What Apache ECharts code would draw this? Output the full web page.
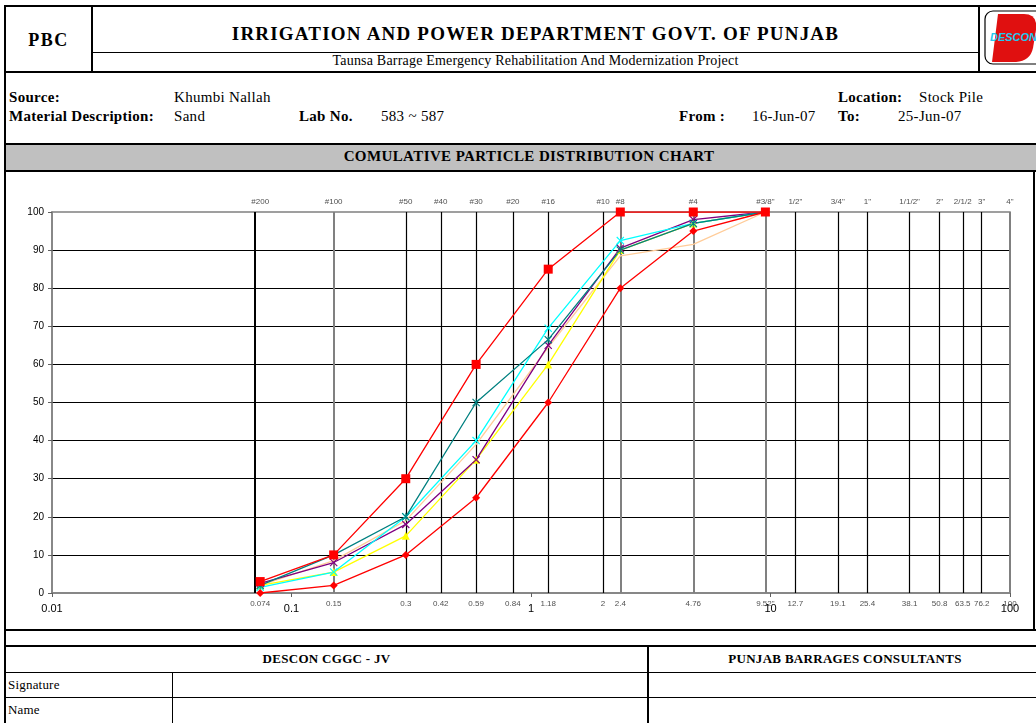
<!DOCTYPE html>
<html>
<head>
<meta charset="utf-8">
<title>Comulative Particle Distribution Chart</title>
<script src="https://cdn.jsdelivr.net/npm/echarts@6.0.0/dist/echarts.min.js"></script>
<style>
	body { margin: 0; background: #fff; }
	#page { position: relative; width: 1036px; height: 723px; overflow: hidden; font-family: "Liberation Serif", "Times New Roman", serif; color: #000; }
	.ln { position: absolute; background: #000; }
	.tx { position: absolute; white-space: nowrap; font-size: 15px; letter-spacing: 0.3px; line-height: 1; }
	.b { font-weight: bold; }
	.c { text-align: center; }
	#eapp { position: absolute; left: 0; top: 0; width: 1036px; height: 723px; z-index: 2; }
</style>
</head>
<body>
<div id="page">
	<!-- header -->
	<div class="ln" style="left:4px;top:5px;width:1032px;height:2px"></div>
	<div class="ln" style="left:4px;top:5px;width:2px;height:718px"></div>
	<div class="ln" style="left:91px;top:5px;width:2px;height:67px"></div>
	<div class="ln" style="left:978px;top:5px;width:2px;height:67px"></div>
	<div class="ln" style="left:93px;top:52px;width:885px;height:1px"></div>
	<div class="ln" style="left:4px;top:71px;width:1032px;height:2px"></div>
	<div class="tx b c" style="left:6px;top:31px;width:85px;font-size:18px;letter-spacing:1.5px">PBC</div>
	<div class="tx b c" style="left:93px;top:24px;width:885px;font-size:19px;letter-spacing:1.2px">IRRIGATION AND POWER DEPARTMENT GOVT. OF PUNJAB</div>
	<div class="tx c" style="left:93px;top:54px;width:885px;font-size:14px;letter-spacing:0.2px">Taunsa Barrage Emergency Rehabilitation And Modernization Project</div>
	<svg style="position:absolute;left:984px;top:10px" width="52" height="56">
		<rect x="1" y="1" width="60" height="53" rx="8" ry="8" fill="#fff" stroke="#000" stroke-width="1.2"/>
		<path d="M14,4 L40,4 Q54,4 52,20 L49,38 Q46,52 30,52 L8,52 Z" fill="#e01010"/>
		<text x="6" y="31" font-family="Liberation Sans" font-size="11" font-weight="bold" font-style="italic" fill="#22c8f0">DESCON</text>
	</svg>

	<!-- info -->
	<div class="tx b" style="left:9px;top:90px">Source:</div>
	<div class="tx" style="left:174px;top:90px">Khumbi Nallah</div>
	<div class="tx b" style="left:838px;top:90px">Location:</div>
	<div class="tx" style="left:919px;top:90px">Stock Pile</div>
	<div class="tx b" style="left:9px;top:109px">Material Description:</div>
	<div class="tx" style="left:174px;top:109px">Sand</div>
	<div class="tx b" style="left:299px;top:109px">Lab No.</div>
	<div class="tx" style="left:381px;top:109px">583 ~ 587</div>
	<div class="tx b" style="left:679px;top:109px">From :</div>
	<div class="tx" style="left:752px;top:109px">16-Jun-07</div>
	<div class="tx b" style="left:838px;top:109px">To:</div>
	<div class="tx" style="left:898px;top:109px">25-Jun-07</div>

	<!-- chart title band -->
	<div style="position:absolute;left:6px;top:145px;width:1030px;height:25px;background:#c0c0c0"></div>
	<div class="ln" style="left:4px;top:143px;width:1032px;height:2px"></div>
	<div class="ln" style="left:4px;top:170px;width:1032px;height:2px"></div>
	<div class="tx b c" style="left:6px;top:149px;width:1046px;font-size:15px;letter-spacing:0.4px">COMULATIVE PARTICLE DISTRIBUTION CHART</div>
	<div class="ln" style="left:1033px;top:170px;width:2px;height:460px"></div>
	<div class="ln" style="left:4px;top:629px;width:1032px;height:2px"></div>

	<!-- signature table -->
	<div class="ln" style="left:4px;top:645px;width:1032px;height:2px"></div>
	<div class="ln" style="left:4px;top:672px;width:1032px;height:1px"></div>
	<div class="ln" style="left:4px;top:697px;width:1032px;height:1px"></div>
	<div class="ln" style="left:647px;top:645px;width:2px;height:78px"></div>
	<div class="ln" style="left:172px;top:672px;width:1px;height:51px"></div>
	<div class="tx b c" style="left:6px;top:652px;width:641px;font-size:13px;letter-spacing:0.3px">DESCON CGGC - JV</div>
	<div class="tx b c" style="left:649px;top:652px;width:392px;font-size:13px;letter-spacing:0.3px">PUNJAB BARRAGES CONSULTANTS</div>
	<div class="tx" style="left:8px;top:678px;font-size:13px;letter-spacing:0.2px">Signature</div>
	<div class="tx" style="left:8px;top:703px;font-size:13px;letter-spacing:0.2px">Name</div>

	<div id="eapp"></div>
</div>

<script>
var sieveSizes = [0.074, 0.15, 0.3, 0.42, 0.59, 0.84, 1.18, 2, 2.36, 4.76, 9.52, 12.7, 19.1, 25.4, 38.1, 50.8, 63.5, 76.2, 100];
var sieveNames = ['#200', '#100', '#50', '#40', '#30', '#20', '#16', '#10', '#8', '#4', '#3/8"', '1/2"', '3/4"', '1"', '1/1/2"', '2"', '2/1/2', '3"', '4"'];
var sizeLabels = ['0.074', '0.15', '0.3', '0.42', '0.59', '0.84', '1.18', '2', '2.4', '4.76', '9.52"', '12.7', '19.1', '25.4', '38.1', '50.8', '63.5', '76.2', '100'];

var testSizes = [0.074, 0.15, 0.3, 0.59, 1.18, 2.36, 4.76, 9.52];
var upperLimit = [3, 10, 30, 60, 85, 100, 100, 100];
var lowerLimit = [0, 2, 10, 25, 50, 80, 95, 100];
var lab583 = [2, 10, 20, 50, 66.5, 90, 97, 100];
var lab584 = [1.5, 5.5, 20, 40, 69.5, 92.5, 97, 100];
var lab585 = [2.5, 8, 18, 35, 65, 90.5, 98, 100];
var lab586 = [2, 5.5, 15, 35, 60, 90, 97, 100];
var lab587 = [2, 8.5, 19, 39, 64.5, 88.5, 91.5, 100];

var crossPath = 'path://M0,1L1,0L5,4L9,0L10,1L6,5L10,9L9,10L5,6L1,10L0,9L4,5Z';
var starPath = 'path://M0,1L1,0L5,4L9,0L10,1L6,5L10,9L9,10L5,6L1,10L0,9L4,5ZM4.4,0L5.6,0L5.6,10L4.4,10Z';

function pairs(xs, ys) {
	var out = [];
	for (var i = 0; i < xs.length; i++) {
		out.push([xs[i], ys[i]]);
	}
	return out;
}

function sieveLine(size) {
	var gray = (size == 0.15 || size == 2.36 || size == 4.76 || size == 9.52 || size == 100);
	return {
		xAxis: size,
		lineStyle: {
			color: gray ? '#808080' : '#000',
			width: (gray || size == 0.074) ? 2 : 1.2,
			type: 'solid'
		}
	};
}

function curve(name, data, color, symbol, size, width) {
	return {
		name: name,
		type: 'line',
		data: pairs(testSizes, data),
		symbol: symbol,
		symbolSize: size,
		showSymbol: symbol != 'none',
		lineStyle: { color: color, width: width },
		itemStyle: { color: color },
		z: 5
	};
}

var chart = echarts.init(document.getElementById('eapp'), null, { renderer: 'canvas' });

var option = {
	animation: false,
	textStyle: { fontFamily: 'Liberation Sans, Arial, sans-serif' },
	grid: {
		left: 52,
		right: 26,
		top: 212,
		bottom: 130,
		show: true,
		borderColor: '#808080',
		borderWidth: 1.5
	},
	xAxis: {
		type: 'log',
		logBase: 10,
		min: 0.01,
		max: 100,
		axisLine: { show: true, lineStyle: { color: '#808080', width: 1.5 } },
		axisTick: { show: true, length: 4, lineStyle: { color: '#606060' } },
		minorTick: { show: false },
		splitLine: { show: false },
		axisLabel: {
			color: '#000',
			fontSize: 11,
			margin: 10,
			formatter: function (v) { return String(v); }
		}
	},
	yAxis: {
		type: 'value',
		min: 0,
		max: 100,
		interval: 10,
		axisLine: { show: true, lineStyle: { color: '#808080', width: 1.5 } },
		axisTick: { show: true, length: 4, lineStyle: { color: '#606060' } },
		splitLine: { show: true, showMinLine: false, showMaxLine: false, lineStyle: { color: '#000', width: 1.2 } },
		axisLabel: { color: '#000', fontSize: 10, margin: 8 }
	},
	series: [
		{
			name: 'sieveTop',
			type: 'scatter',
			data: pairs(sieveSizes, sieveSizes.map(function () { return 100; })),
			symbolSize: 1,
			itemStyle: { color: 'rgba(0,0,0,0)' },
			label: {
				show: true,
				position: 'top',
				distance: 6,
				fontSize: 8,
				color: '#222',
				formatter: function (p) { return sieveNames[p.dataIndex]; }
			},
			markLine: {
				silent: true,
				symbol: 'none',
				label: { show: false },
				data: sieveSizes.map(sieveLine)
			},
			clip: false,
			z: 1
		},
		{
			name: 'sieveBottom',
			type: 'scatter',
			data: pairs(sieveSizes, sieveSizes.map(function () { return 0; })),
			symbolSize: 1,
			itemStyle: { color: 'rgba(0,0,0,0)' },
			label: {
				show: true,
				position: 'bottom',
				distance: 6,
				fontSize: 8,
				color: '#222',
				formatter: function (p) { return sizeLabels[p.dataIndex]; }
			},
			clip: false,
			z: 1
		},
		curve('587', lab587, '#FFCC99', 'none', 0, 1.3),
		curve('586', lab586, '#FFFF00', 'triangle', 8, 1.3),
		curve('585', lab585, '#800080', crossPath, 8, 1.3),
		curve('584', lab584, '#00FFFF', crossPath, 8, 1.3),
		curve('583', lab583, '#008080', starPath, 8, 1.3),
		curve('Lower Limit', lowerLimit, '#FF0000', 'diamond', 8, 1.3),
		curve('Upper Limit', upperLimit, '#FF0000', 'rect', 9, 1.3)
	]
};

chart.setOption(option);
window.onresize = chart.resize;
</script>
</body>
</html>
